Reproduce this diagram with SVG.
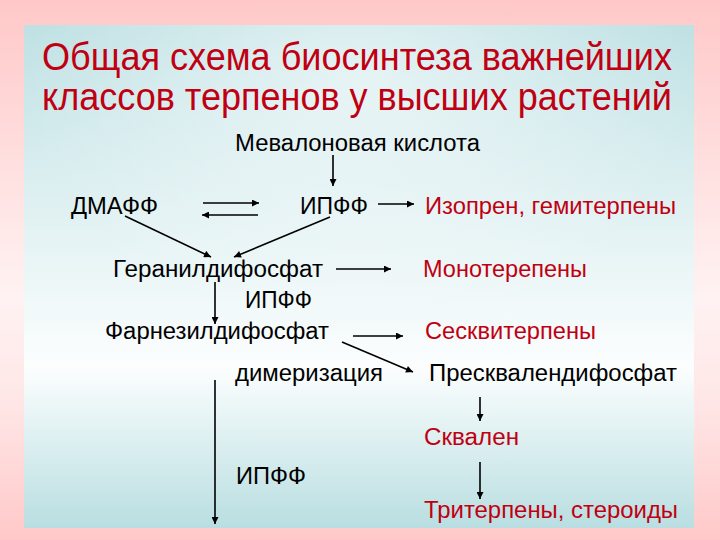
<svg xmlns="http://www.w3.org/2000/svg" width="720" height="540" viewBox="0 0 720 540">
  <defs>
    <linearGradient id="outer" x1="0" y1="0" x2="0" y2="1">
      <stop offset="0" stop-color="#FFC8C8"/>
      <stop offset="0.55" stop-color="#FFF2F2"/>
      <stop offset="0.75" stop-color="#FFE6E6"/>
      <stop offset="1" stop-color="#FFC8C8"/>
    </linearGradient>
    <linearGradient id="panel" x1="0" y1="0" x2="0" y2="1">
      <stop offset="0" stop-color="#BFE1E4"/>
      <stop offset="0.68" stop-color="#FCFEFE"/>
      <stop offset="1" stop-color="#B9DEE1"/>
    </linearGradient>
    <radialGradient id="glow" cx="0.5" cy="0.12" r="0.5" fx="0.5" fy="0.12">
      <stop offset="0" stop-color="#FFFFFF" stop-opacity="0.55"/>
      <stop offset="1" stop-color="#FFFFFF" stop-opacity="0"/>
    </radialGradient>
    <marker id="ah" viewBox="0 0 10 10" refX="10" refY="5" markerWidth="8" markerHeight="7" markerUnits="userSpaceOnUse" orient="auto">
      <path d="M0,0 L10,5 L0,10 Z" fill="#000"/>
    </marker>
    <style>
      .t { font-family: "Liberation Sans", Arial, sans-serif; font-size: 23px; fill: #000; }
      .r { fill: #C00012; }
      .title { font-family: "Liberation Sans", Arial, sans-serif; font-size: 38px; fill: #C00012; }
      .c line { stroke: #000; stroke-width: 1.6; marker-end: url(#ah); }
    </style>
  </defs>
  <rect x="0" y="0" width="720" height="540" fill="url(#outer)"/>
  <rect x="24" y="25" width="670" height="503" fill="url(#panel)"/>
  <rect x="24" y="25" width="670" height="503" fill="url(#glow)"/>

  <g id="title">
    <text class="title" x="42" y="70" textLength="630" lengthAdjust="spacingAndGlyphs">Общая схема биосинтеза важнейших</text>
    <text class="title" x="42" y="110" textLength="630" lengthAdjust="spacingAndGlyphs">классов терпенов у высших растений</text>
  </g>

  <g id="mevalonic"><text class="t" x="235" y="151" textLength="245" lengthAdjust="spacingAndGlyphs">Мевалоновая кислота</text></g>
  <g id="dmapp"><text class="t" x="71" y="214" textLength="87" lengthAdjust="spacingAndGlyphs">ДМАФФ</text></g>
  <g id="ipp1"><text class="t" x="300" y="214" textLength="68" lengthAdjust="spacingAndGlyphs">ИПФФ</text></g>
  <g id="isoprene"><text class="t r" x="425" y="214" textLength="251" lengthAdjust="spacingAndGlyphs">Изопрен, гемитерпены</text></g>
  <g id="gpp"><text class="t" x="113" y="277" textLength="210" lengthAdjust="spacingAndGlyphs">Геранилдифосфат</text></g>
  <g id="mono"><text class="t r" x="423" y="277" textLength="164" lengthAdjust="spacingAndGlyphs">Монотерепены</text></g>
  <g id="ipp2"><text class="t" x="245" y="308" textLength="67" lengthAdjust="spacingAndGlyphs">ИПФФ</text></g>
  <g id="fpp"><text class="t" x="105" y="339" textLength="224" lengthAdjust="spacingAndGlyphs">Фарнезилдифосфат</text></g>
  <g id="sesq"><text class="t r" x="425" y="339" textLength="171" lengthAdjust="spacingAndGlyphs">Сесквитерпены</text></g>
  <g id="dimer"><text class="t" x="235" y="381" textLength="148" lengthAdjust="spacingAndGlyphs">димеризация</text></g>
  <g id="presq"><text class="t" x="429" y="381" textLength="248" lengthAdjust="spacingAndGlyphs">Пресквалендифосфат</text></g>
  <g id="squalene"><text class="t r" x="424" y="445" textLength="95" lengthAdjust="spacingAndGlyphs">Сквален</text></g>
  <g id="ipp3"><text class="t" x="236" y="484" textLength="70" lengthAdjust="spacingAndGlyphs">ИПФФ</text></g>
  <g id="triterp"><text class="t r" x="424" y="518" textLength="254" lengthAdjust="spacingAndGlyphs">Тритерпены, стероиды</text></g>

  <g id="connectors" class="c">
    <line x1="333" y1="155" x2="333" y2="186"/>
    <line x1="203" y1="203" x2="259" y2="203"/>
    <line x1="258" y1="215" x2="202" y2="215"/>
    <line x1="378" y1="204" x2="414" y2="204"/>
    <line x1="125" y1="216" x2="211" y2="257"/>
    <line x1="330" y1="217" x2="234" y2="257"/>
    <line x1="336" y1="269" x2="391" y2="269"/>
    <line x1="215" y1="282" x2="215" y2="324"/>
    <line x1="353" y1="336" x2="403" y2="336"/>
    <line x1="342" y1="342" x2="413" y2="372"/>
    <line x1="480" y1="397" x2="480" y2="421"/>
    <line x1="480" y1="462" x2="480" y2="499"/>
    <line x1="215" y1="380" x2="215" y2="524"/>
  </g>
</svg>
